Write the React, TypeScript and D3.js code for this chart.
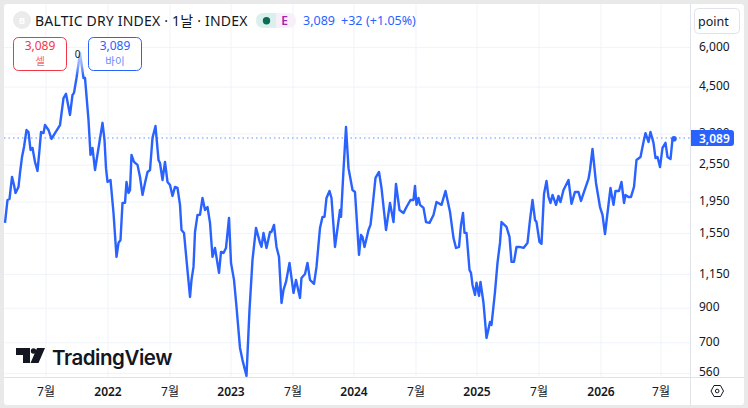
import React from "react";
import * as d3 from "d3";

// Session index since the first visible bar, and index value at that session
const sessions = [2,7,11,16,20,23,29,32,36,40,45,49,53,57,62,67,71,74,79,82,89,95,102,112,119,124,132,137,140,145,152,159,162,169,173,177,182,189,197,201,204,207,213,219,225,229,233,237,242,245,249,252,255,260,267,272,277,282,287,292,297,303,309,312,317,322,327,332,337,342,347,352,355,360,365,372,375,379,382,387,392,397,402,407,412,417,422,430,434,439,444,450,454,460,465,472,477,485,491,497,504,512,515,519,525,532,535,540,545,550,555,559,564,571,579,584,592,595,602,607,612,620,625,632,637,641,645,651,655,662,672,674,679,684,689,697,702,710,714,717,721,729,733,737,743,750,755,764,772,779,784,791,799,805,813,819,822,825,829,832,839,844,851,859,865,875,883,892,899,904,910,914,918,921,925,931,934,937,942,945,950,953,959,965,972,975,982,987,992,995,1005,1011,1015,1020,1025,1031,1039,1047,1052,1057,1062,1065,1071,1075,1080,1085,1089,1093,1097,1104,1109,1113,1119,1129,1135,1142,1149,1154,1160,1169,1172,1177,1184,1192,1197,1202,1207,1213,1219,1223,1230,1235,1240,1243,1249,1254,1260,1265,1273,1279,1283,1289,1293,1299,1303,1307,1312,1317,1323,1327,1333,1337,1340];
const values = [1675,1979,1993,2341,2208,2083,2176,2410,2705,2910,3294,3245,2848,2890,2610,2445,2848,3245,3220,3415,3294,3085,3220,3415,4155,4285,3675,4250,4315,4810,5770,4810,4810,3542,2748,2890,2462,2890,3470,3063,2495,2257,2289,1800,1308,1448,1479,1937,1937,2257,2083,2128,2748,2610,2555,2341,2053,2240,2427,2462,3110,3390,2648,2590,2289,2610,2257,2208,2038,2176,2160,1910,1591,1557,1279,977,1106,1216,1568,1775,1775,2008,1840,1880,1675,1308,1396,1164,1356,1346,1396,1737,1252,1106,909,674,617,550,889,1279,1615,1448,1406,1557,1396,1568,1568,1651,1406,1308,935,1028,1090,1252,1006,1106,970,1122,1155,1252,1106,1075,1216,1615,1750,1750,2008,2113,2008,1406,1840,1750,2462,3365,2495,2128,2098,1327,1535,1512,1406,1591,1651,1880,2323,2427,2160,1591,1937,1685,2224,1840,1800,1880,1979,1979,2192,1910,2008,1910,1868,1685,1675,1775,1950,1910,2113,1815,1500,1396,1406,1651,1800,1557,1557,1189,1164,1066,992,1083,985,1090,935,725,814,797,1014,1252,1448,1685,1627,1512,1261,1261,1406,1406,1396,1448,1711,1979,1711,1685,1458,1438,2068,2273,2023,1937,2053,1910,2038,1950,2128,2289,1923,2098,2098,1965,2098,2306,2462,2870,2240,1880,1775,1545,1800,2160,1910,2113,2113,2257,1937,2053,2023,2023,2176,2648,2705,3020,3220,3020,3245,3000,2685,2705,2515,2890,3000,2705,2665,3080,3089];

const yTicks = [6000, 4500, 3200, 2550, 1950, 1550, 1150, 900, 700, 560];
const xTickSessions = [84, 208, 332, 454, 578, 700, 824, 946, 1070, 1194, 1314];
const xTickLabels = ["7월", "2022", "7월", "2023", "7월", "2024", "7월", "2025", "7월", "2026", "7월"];
const lastValue = 3089;

const FONT = "'Noto Sans','Noto Sans CJK KR',sans-serif";
const BLUE = "#2962ff";
const RED = "#f23645";
const INK = "#131722";

const x = d3.scaleLinear().domain([0, 1340]).range([4, 674]);
const y = d3.scaleLog().domain([560, 6000]).range([373.4, 47.6]);
const points = sessions.map((s, i) => [s, values[i]] as [number, number]);
const line = d3.line<[number, number]>().x((d) => x(d[0])).y((d) => y(d[1]));

export default function App() {
  const lastY = y(lastValue) - 0.8;
  return (
    <svg
      width={748}
      height={408}
      style={{ position: "fixed", left: 0, top: 0, display: "block", fontFamily: FONT }}
    >
      <defs>
        <linearGradient id="fade" x1="0" y1="0" x2="0" y2="1">
          <stop offset="0" stopColor="#fff" stopOpacity={0.75} />
          <stop offset="0.6" stopColor="#fff" stopOpacity={0.45} />
          <stop offset="1" stopColor="#fff" stopOpacity={0} />
        </linearGradient>
      </defs>
      <rect width={748} height={408} fill="#e9e9e9" />
      <rect x={4} y={4} width={740} height={401} rx={3} fill="#fff" />

      {yTicks.map((t) => (
        <line key={t} x1={4} x2={690} y1={y(t)} y2={y(t)} stroke="#f0f3fa" />
      ))}
      {xTickSessions.map((s) => (
        <line key={s} x1={x(s)} x2={x(s)} y1={4} y2={377} stroke="#f0f3fa" />
      ))}

      <line x1={4} x2={690} y1={lastY} y2={lastY} stroke={BLUE} strokeWidth={1} strokeDasharray="1.5 3" opacity={0.7} />

      <path d={line(points) ?? ""} fill="none" stroke={BLUE} strokeWidth={2.4} strokeLinejoin="round" />
      <circle cx={x(1340)} cy={y(lastValue)} r={2.8} fill={BLUE} />
      <rect x={72} y={50} width={16} height={26} fill="url(#fade)" />

      {/* axis borders */}
      <line x1={4} x2={744} y1={377.5} y2={377.5} stroke="#e0e3eb" />
      <line x1={690.5} x2={690.5} y1={4} y2={405} stroke="#e0e3eb" />

      {/* y tick labels */}
      {yTicks.map((t) => (
        <text key={t} x={699} y={y(t) - 1.5} dominantBaseline="central" fontSize={12} fill={INK}>
          {d3.format(",")(t)}
        </text>
      ))}
      <path d="M691 130H731Q734 130 734 133V143Q734 146 731 146H691Z" fill={BLUE} />
      <text x={699} y={138} dominantBaseline="central" fontSize={12} fontWeight={600} fill="#fff">
        {d3.format(",")(lastValue)}
      </text>

      {/* x tick labels */}
      {xTickSessions.map((s, i) => (
        <text
          key={s}
          x={x(s)}
          y={391}
          textAnchor="middle"
          dominantBaseline="central"
          fontSize={12}
          fontWeight={xTickLabels[i].length > 2 ? 600 : 400}
          fill={INK}
        >
          {xTickLabels[i]}
        </text>
      ))}

      {/* unit box */}
      <rect x={694.5} y={8.5} width={45} height={25} rx={4} fill="#fff" stroke="#e0e3eb" />
      <text x={698} y={21} dominantBaseline="central" fontSize={12.5} fill={INK}>point</text>

      {/* settings icon */}
      <path d="M711 391L714 385.5H720.5L723.5 391L720.5 396.5H714Z" fill="none" stroke={INK} strokeWidth={1} />
      <circle cx={717.2} cy={391} r={1.8} fill="none" stroke={INK} strokeWidth={1} />

      {/* header */}
      <circle cx={22} cy={20} r={9} fill="#ebebeb" />
      <text x={22} y={20} textAnchor="middle" dominantBaseline="central" fontSize={9.5} fontWeight={700} fill="#fff">B</text>
      <text x={35} y={20} dominantBaseline="central" fontSize={14} letterSpacing={0.2} fill={INK}>BALTIC DRY INDEX · 1날 · INDEX</text>
      <path d="M276 13H264Q256 13 256 20.5Q256 28 264 28H276Z" fill="#daf0ec" />
      <path d="M276 13H288Q296 13 296 20.5Q296 28 288 28H276Z" fill="#f7f0fa" />
      <circle cx={266.5} cy={20.7} r={3.7} fill="#0b6b57" />
      <text x={284.5} y={20.5} textAnchor="middle" dominantBaseline="central" fontSize={12} fontWeight={600} fill="#9c27b0">E</text>
      <text x={303} y={20.5} dominantBaseline="central" fontSize={12.5} fill={BLUE}>3,089</text>
      <text x={341} y={20.5} dominantBaseline="central" fontSize={12.5} fill={BLUE}>+32</text>
      <text x={366} y={20.5} dominantBaseline="central" fontSize={12.5} fill={BLUE}>(+1.05%)</text>

      {/* sell / buy */}
      <rect x={13.5} y={37.5} width={53} height={33} rx={5} fill="#fff" stroke={RED} />
      <text x={40} y={45.5} textAnchor="middle" dominantBaseline="central" fontSize={12} fill={RED}>3,089</text>
      <text x={40} y={60.5} textAnchor="middle" dominantBaseline="central" fontSize={10.5} fill={RED} opacity={0.75}>셀</text>
      <rect x={88.5} y={37.5} width={53} height={33} rx={5} fill="#fff" stroke={BLUE} />
      <text x={115} y={45.5} textAnchor="middle" dominantBaseline="central" fontSize={12} fill={BLUE}>3,089</text>
      <text x={115} y={60.5} textAnchor="middle" dominantBaseline="central" fontSize={10.5} fill={BLUE} opacity={0.75}>바이</text>
      <text x={77.5} y={54} textAnchor="middle" dominantBaseline="central" fontSize={10} fill={INK}>0</text>

      {/* logo */}
      <path d="M16 348H30V363H23V355H16Z M45 348L38.5 363H30.5L37 348Z" fill={INK} />
      <circle cx={33.5} cy={351} r={2.7} fill={INK} />
      <text x={52} y={357} dominantBaseline="central" fontFamily="Inter,sans-serif" fontSize={20.5} fontWeight={600} letterSpacing={-0.45} fill={INK}>TradingView</text>
    </svg>
  );
}
